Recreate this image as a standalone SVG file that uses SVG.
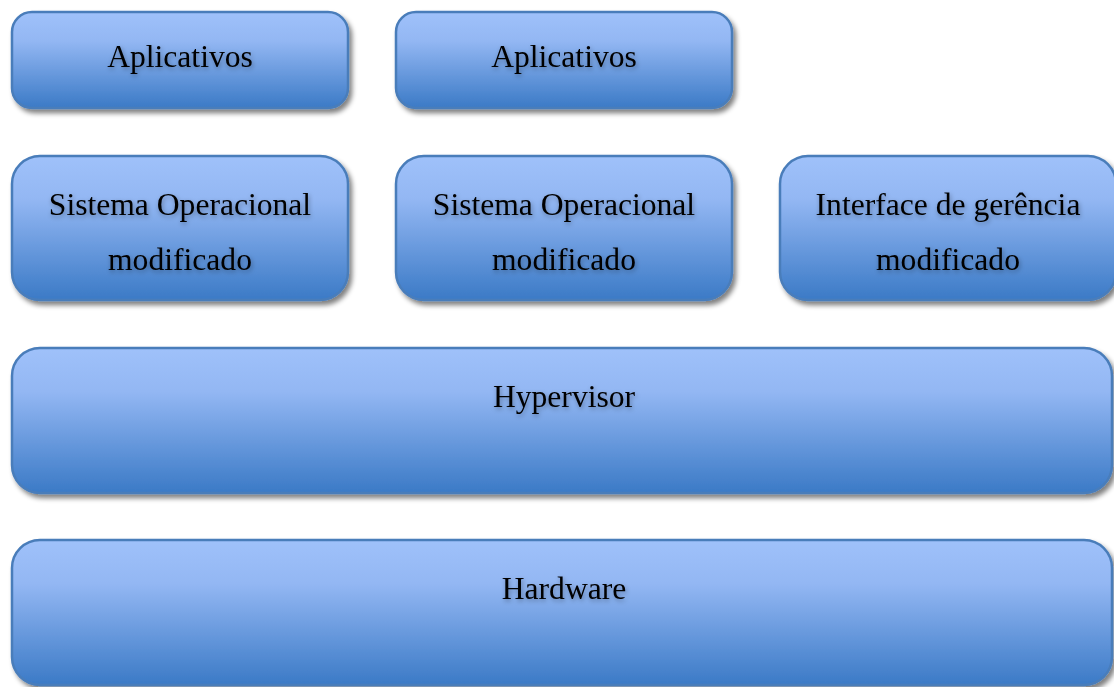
<svg xmlns="http://www.w3.org/2000/svg" width="1114" height="687" viewBox="0 0 1114 687">
<defs>
<linearGradient id="g" x1="0" y1="0" x2="0" y2="1">
<stop offset="0" stop-color="#9fc1fa"/>
<stop offset="0.3" stop-color="#93b7f3"/>
<stop offset="1" stop-color="#3b7ac6"/>
</linearGradient>
<filter id="sh" x="-5%" y="-10%" width="115%" height="130%">
<feGaussianBlur in="SourceAlpha" stdDeviation="2.5"/>
<feOffset dx="3" dy="4" result="b"/>
<feComponentTransfer><feFuncA type="linear" slope="0.5"/></feComponentTransfer>
<feMerge><feMergeNode/><feMergeNode in="SourceGraphic"/></feMerge>
</filter>
<filter id="ts" x="-10%" y="-30%" width="120%" height="170%">
<feGaussianBlur in="SourceAlpha" stdDeviation="2.5"/>
<feOffset dx="1" dy="2"/>
<feComponentTransfer><feFuncA type="linear" slope="0.35"/></feComponentTransfer>
<feMerge><feMergeNode/><feMergeNode in="SourceGraphic"/></feMerge>
</filter>
</defs>
<style>
.box{fill:url(#g);stroke:#4a7dba;stroke-width:2.5;filter:url(#sh)}
.t{font-family:"Liberation Serif","Times New Roman",serif;font-size:31.6px;fill:#000;text-anchor:middle;filter:url(#ts)}
</style>
<rect width="1114" height="687" fill="#fff"/>
<g id="app1"><rect class="box" x="12" y="12" width="336" height="96" rx="20"/><text class="t" x="180" y="67">Aplicativos</text></g>
<g id="app2"><rect class="box" x="396" y="12" width="336" height="96" rx="20"/><text class="t" x="564" y="67">Aplicativos</text></g>
<g id="so1"><rect class="box" x="12" y="156" width="336" height="144" rx="28"/><text class="t" x="180" y="215">Sistema Operacional</text><text class="t" x="180" y="270">modificado</text></g>
<g id="so2"><rect class="box" x="396" y="156" width="336" height="144" rx="28"/><text class="t" x="564" y="215">Sistema Operacional</text><text class="t" x="564" y="270">modificado</text></g>
<g id="mgmt"><rect class="box" x="780" y="156" width="336" height="144" rx="28"/><text class="t" x="948" y="215">Interface de gerência</text><text class="t" x="948" y="270">modificado</text></g>
<g id="hypervisor"><rect class="box" x="12" y="348" width="1100" height="145" rx="28"/><text class="t" x="564" y="407">Hypervisor</text></g>
<g id="hardware"><rect class="box" x="12" y="540" width="1100" height="145" rx="28"/><text class="t" x="564" y="599">Hardware</text></g>
<g id="connectors"/>
</svg>
